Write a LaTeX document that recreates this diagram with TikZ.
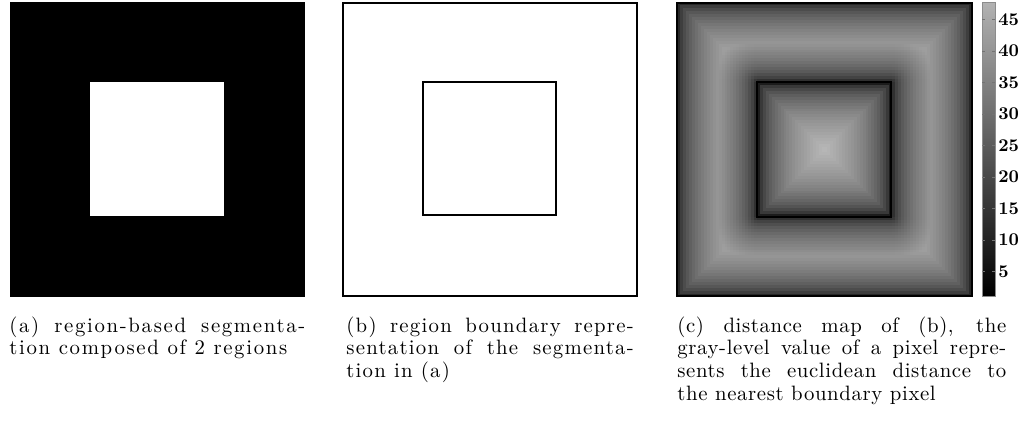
\documentclass[tikz,border=0pt]{standalone}
\usepackage{fontspec}
\usepackage{tikz}
\newfontfamily\capfontwide{Latin Modern Roman}[LetterSpace=8.0]
\newfontfamily\capfontmid{Latin Modern Roman}[LetterSpace=6.0]
\newfontfamily\capfontnarrow{Latin Modern Roman}[LetterSpace=3.0]

\tikzset{
  caption/.style 2 args={anchor=base west, inner sep=0pt, align=justify, text width=#1,
    font=#2\fontsize{11}{12}\selectfont},
  boundary/.style={draw=black, line width=1.1pt},
  ticklabel/.style={anchor=west, inner sep=0pt, font=\fontsize{9.5}{11}\selectfont\bfseries},
  barbox/.style={draw=black!45, line width=0.4pt},
}

\begin{document}
\begin{tikzpicture}[x=0.5289pt, y=-0.5289pt]
                \useasboundingbox (0,0) rectangle (1021,427);

                % (a) segmentation
                \fill[black] (10,2) rectangle (305,297);
                \fill[white] (90,82) rectangle (224,216);

                % (b) boundaries
                \draw[boundary] (343,3) rectangle (637,296);
                \draw[boundary] (423,82) rectangle (556,215);

                % (c) distance map
                \def\cx{824.5}
                \def\cy{149.5}
                \def\hout{147.5}
                \def\hin{67}
                \pgfmathsetmacro\cs{\hout/50}
                \foreach \i in {1,...,50}{
                  \foreach \j in {1,...,50}{
                    \pgfmathsetmacro\u{(\i-0.5)*\cs}
                    \pgfmathsetmacro\v{(\j-0.5)*\cs}
                    \pgfmathsetmacro\m{max(\u,\v)}
                    \pgfmathsetmacro\dout{\hout-\m}
                    \pgfmathsetmacro\din{ifthenelse(\m<=\hin, \hin-\m, sqrt(max(\u-\hin,0)^2+max(\v-\hin,0)^2))}
                    \pgfmathsetmacro\dd{max(min(\dout,\din),0.05)}
                    \pgfmathsetmacro\gv{72*(\dd/67)^0.4}
                    \pgfmathsetmacro\ra{(\i-1)*\cs-0.3}
                    \pgfmathsetmacro\rb{\i*\cs+0.3}
                    \pgfmathsetmacro\sa{(\j-1)*\cs-0.3}
                    \pgfmathsetmacro\sb{\j*\cs+0.3}
                    \colorlet{cellc}{white!\gv!black}
                    \fill[cellc] (\cx+\ra,\cy+\sa) rectangle (\cx+\rb,\cy+\sb);
                    \fill[cellc] (\cx-\ra,\cy+\sa) rectangle (\cx-\rb,\cy+\sb);
                    \fill[cellc] (\cx+\ra,\cy-\sa) rectangle (\cx+\rb,\cy-\sb);
                    \fill[cellc] (\cx-\ra,\cy-\sa) rectangle (\cx-\rb,\cy-\sb);
                  }
                }
                \draw[black, line width=0.8pt] (677,3) rectangle (972,296);
                \draw[black, line width=0.7pt] (757,82) rectangle (891,217);

                % colour bar
                \shade[bottom color=black, top color=white!70!black] (982,2) rectangle (995,296);
                \draw[barbox] (982,2) rectangle (995,296);
                \foreach \t in {5,10,...,45}{
                  \draw[black!55] (982,303-6.3*\t) -- (985,303-6.3*\t);
                  \draw[black!55] (992,303-6.3*\t) -- (995,303-6.3*\t);
                  \node[ticklabel] (t\t) at (998,303-6.3*\t) {\t};
                }

                % Captions
                \node[caption={156.5pt}{\capfontwide}] (capa) at (9,332)
                  {(a) region-based segmenta-\linebreak tion composed of 2 regions};
                \node[caption={152pt}{\capfontmid}] (capb) at (346,332)
                  {(b) region boundary repre-\linebreak sentation of the segmenta-\linebreak tion in (a)};
                \node[caption={174pt}{\capfontnarrow}] (capc) at (677,332)
                  {(c) distance map of (b), the\linebreak gray-level value of a pixel repre-\linebreak sents the euclidean distance to\linebreak the nearest boundary pixel};
\end{tikzpicture}
\end{document}
